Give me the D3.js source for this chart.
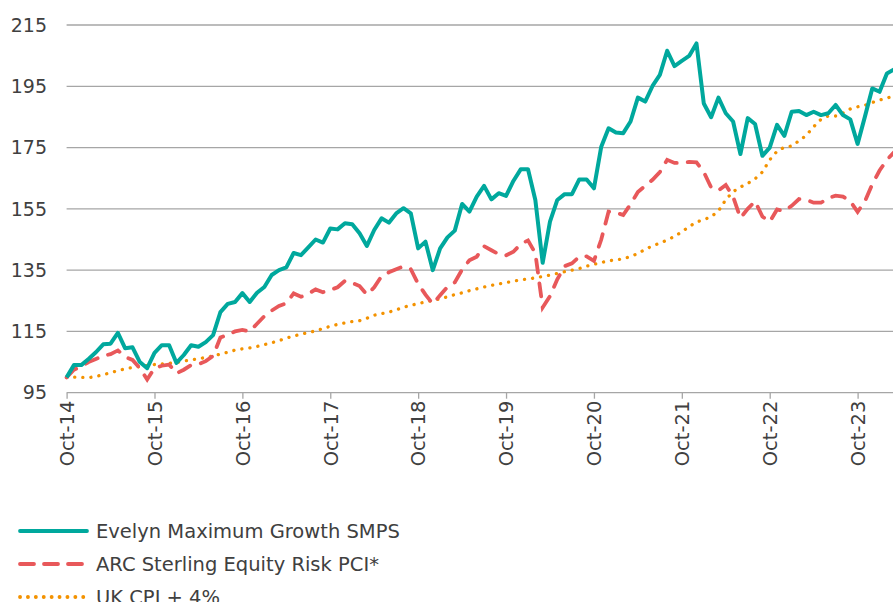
<!DOCTYPE html>
<html>
<head>
<meta charset="utf-8">
<script src="https://cdn.jsdelivr.net/npm/d3@7"></script>
<style>
  body { margin: 0; background: #fff; }
  svg { display: block; font-family: "DejaVu Sans", sans-serif; }
</style>
</head>
<body>
<div id="chart"></div>
<script>
// monthly index values, Oct-14 = 100
var evelyn = [100, 104, 104, 106, 108.2, 110.8, 111, 114.5, 109.5, 109.8, 105, 103,
  108, 110.5, 110.5, 104.7, 107.3, 110.5, 110, 111.5, 113.8, 121.3, 124, 124.6,
  127.5, 124.6, 127.6, 129.5, 133.4, 135, 135.9, 140.6, 139.9, 142.4, 145, 144,
  148.6, 148.3, 150.3, 150, 147, 142.9, 148.1, 151.9, 150.5, 153.5, 155.2, 153.5,
  142.1, 144.3, 135, 142.1, 145.7, 147.9, 156.6, 154.1, 159, 162.5, 158.1, 160.1,
  159.2, 164.1, 167.9, 167.9, 157.9, 137.4, 150.8, 157.9, 159.8, 159.8, 164.6, 164.6,
  161.7, 175.3, 181.3, 179.9, 179.7, 183.5, 191.3, 190, 195.1, 198.7, 206.6, 201.6,
  203.3, 204.9, 209, 189.4, 184.9, 191.3, 186.2, 183.5, 172.9, 184.6, 182.7, 172.3,
  175, 182.4, 178.8, 186.7, 186.9, 185.6, 186.7, 185.6, 186.2, 188.9, 185.6, 184.2,
  176.2, 185.1, 194.3, 193.2, 199.2, 200.5];

var arc = [100, 102.5, 103.5, 105, 106, 107, 107.6, 108.8, 106.7, 105.7, 103, 99.3,
  103, 103.8, 104.2, 101.3, 102.5, 104, 104.3, 105.3, 107, 113, 114, 115,
  115.5, 115, 117.5, 120, 121.8, 123.3, 124.2, 127.4, 126.3, 127.3, 128.7, 127.8,
  128.5, 129.4, 131.5, 130.8, 129.8, 127, 129.4, 133, 134.3, 135.3, 136.2, 135.3,
  130.5, 127, 124, 126.8, 129.5, 131, 135.2, 138.2, 139.4, 142.8, 141.5, 140.2,
  139.8, 141, 143.5, 144.7, 140.5, 122.8, 126.5, 132, 136.3, 137.2, 139.4, 139.5,
  138, 145, 154.1, 153.8, 153, 156.5, 160.5, 162.5, 164.5, 167, 171, 170,
  170, 170.3, 170.2, 167, 162, 161, 162.8, 159, 152, 155, 157.5, 152.5,
  150.8, 154.8, 154.3, 156, 158.2, 158, 157, 157, 158.5, 159.3, 159, 157.5,
  154, 157.5, 163, 167.5, 171, 173.5];

var cpi = [100, 100.1, 100, 99.9, 100.3, 100.9, 101.5, 102.2, 102.8, 103.2, 103.5, 103.9,
  104.2, 104.4, 104.6, 104.9, 105.3, 105.7, 106.1, 106.5, 107, 107.6, 108.2, 108.9,
  109.3, 109.6, 110.1, 110.7, 111.3, 112, 112.8, 113.5, 114.1, 114.6, 115.2, 115.9,
  116.7, 117.3, 117.8, 118.2, 118.5, 119.3, 120.3, 120.8, 121.3, 122, 122.9, 123.5,
  124.1, 124.6, 125.1, 125.6, 126.3, 127, 127.6, 128.3, 128.9, 129.5, 130, 130.5,
  130.9, 131.4, 131.8, 132.1, 132.5, 132.9, 133.4, 133.9, 134.5, 135, 135.5, 136.3,
  136.9, 137.5, 138, 138.4, 138.6, 139.5, 140.4, 141.8, 142.9, 143.8, 144.8, 146,
  147.5, 149.2, 150.7, 151.5, 152.4, 154.3, 158, 160.6, 162.1, 163.3, 164.8, 167,
  171, 173.8, 175.1, 175.5, 177.2, 179, 181.8, 184.2, 185.3, 185.3, 186.3, 187.6,
  188.3, 188.8, 189.7, 190.5, 191.1, 192];

var yTicks = [95, 115, 135, 155, 175, 195, 215];
var xLabels = ["Oct-14", "Oct-15", "Oct-16", "Oct-17", "Oct-18",
               "Oct-19", "Oct-20", "Oct-21", "Oct-22", "Oct-23"];
var seriesNames = ["Evelyn Maximum Growth SMPS", "ARC Sterling Equity Risk PCI*", "UK CPI + 4%"];

var W = 893, H = 602;
var plotLeft = 66.6, plotBottom = 392.7, plotTop = 25;

var x = d3.scaleLinear()
  .domain([0, 108])
  .range([plotLeft, 857.6]);
var y = d3.scaleLinear()
  .domain([95, 215])
  .range([plotBottom, plotTop]);

var svg = d3.select("#chart").append("svg")
  .attr("width", W)
  .attr("height", H);

svg.append("defs").append("clipPath")
  .attr("id", "plotclip")
  .append("rect")
    .attr("x", plotLeft - 4).attr("y", 0)
    .attr("width", W - plotLeft + 4).attr("height", plotBottom + 4);

// gridlines
svg.append("g")
  .selectAll("line")
  .data(yTicks.slice(1))
  .enter().append("line")
    .attr("x1", plotLeft).attr("x2", W)
    .attr("y1", function(d) { return y(d); })
    .attr("y2", function(d) { return y(d); })
    .attr("stroke", "#a6a6a6")
    .attr("stroke-width", 1.3);

// y labels
svg.append("g")
  .selectAll("text")
  .data(yTicks)
  .enter().append("text")
    .attr("x", 47)
    .attr("y", function(d) { return y(d); })
    .attr("dy", "0.35em")
    .attr("text-anchor", "end")
    .attr("font-size", 19)
    .attr("fill", "#404040")
    .text(function(d) { return d; });

// x axis
var xAxis = d3.axisBottom(x)
  .tickValues(d3.range(0, 109, 12))
  .tickSize(6)
  .tickFormat(function(d, i) { return xLabels[i]; });

var gx = svg.append("g")
  .attr("transform", "translate(0," + plotBottom + ")")
  .call(xAxis);
gx.select(".domain").remove();
gx.append("line")
  .attr("x1", plotLeft).attr("x2", W)
  .attr("stroke", "#a6a6a6").attr("stroke-width", 1.3);
gx.selectAll(".tick line").attr("stroke", "#a6a6a6").attr("stroke-width", 1.3);
gx.selectAll(".tick text")
  .attr("font-family", "'DejaVu Sans', sans-serif")
  .attr("font-size", 19.5)
  .attr("fill", "#404040")
  .attr("transform", "rotate(-90)")
  .attr("text-anchor", "end")
  .attr("x", -8)
  .attr("y", 0)
  .attr("dy", "0.35em");

// lines
var line = d3.line()
  .x(function(d, i) { return x(i); })
  .y(function(d) { return y(d); });

var plot = svg.append("g").attr("clip-path", "url(#plotclip)");

plot.append("path")
  .datum(cpi)
  .attr("d", line)
  .attr("fill", "none")
  .attr("stroke", "#f39200")
  .attr("stroke-width", 3.3)
  .attr("stroke-linecap", "round")
  .attr("stroke-dasharray", "0.1 8");

plot.append("path")
  .datum(arc)
  .attr("d", line)
  .attr("fill", "none")
  .attr("stroke", "#e8585a")
  .attr("stroke-width", 3.8)
  .attr("stroke-linecap", "round")
  .attr("stroke-dasharray", "13 11");

plot.append("path")
  .datum(evelyn)
  .attr("d", line)
  .attr("fill", "none")
  .attr("stroke", "#00a89d")
  .attr("stroke-width", 4)
  .attr("stroke-linejoin", "round");

// legend
var legendStyles = [
  {color: "#00a89d", dash: null, cap: "round"},
  {color: "#e8585a", dash: "14 10", cap: "round"},
  {color: "#f39200", dash: "0.1 7.8", cap: "round"}
];

var legend = svg.append("g");
var items = legend.selectAll("g")
  .data(seriesNames)
  .enter().append("g")
    .attr("transform", function(d, i) { return "translate(0," + (531 + i * 33) + ")"; });

items.append("line")
  .attr("x1", 20).attr("x2", 87)
  .attr("stroke", function(d, i) { return legendStyles[i].color; })
  .attr("stroke-width", 3.8)
  .attr("stroke-linecap", function(d, i) { return legendStyles[i].cap; })
  .attr("stroke-dasharray", function(d, i) { return legendStyles[i].dash; });

items.append("text")
  .attr("x", 96)
  .attr("dy", "0.35em")
  .attr("font-size", 19.5)
  .attr("fill", "#404040")
  .text(function(d) { return d; });
</script>
</body>
</html>
